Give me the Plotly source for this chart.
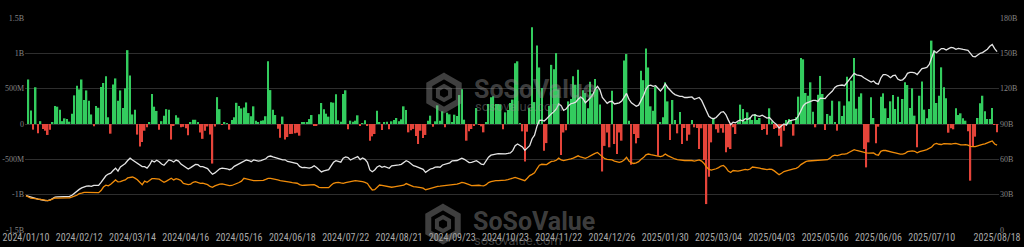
import plotly.graph_objects as go

# ---------------- data ----------------
tick_labels = ["2024/01/10", "2024/02/12", "2024/03/14", "2024/04/16", "2024/05/16",
               "2024/06/18", "2024/07/22", "2024/08/21", "2024/09/23", "2024/10/23",
               "2024/11/22", "2024/12/26", "2025/01/30", "2025/03/04", "2025/04/03",
               "2025/05/06", "2025/06/06", "2025/07/10", "2025/08/18"]
tick_index = [0, 22, 44, 66, 88, 110, 132, 154, 176, 198, 220, 242, 264, 286, 308,
              330, 352, 374, 401]

# daily total net inflow, million USD (index 0 = 2024/01/10, no flow)
net_inflow_musd = [None,
    630, 190, -80, 520, -130, 40, -70, -95, -155, -80,
    15, 255, 245, 200, 40, 80, 70, 33, 145, 405,
    540, 490, 630, 340, 475, 330, 135, -33, 255, 230,
    525, 580, 675, 95, -137, 560, 645, 330, 475, 225,
    505, 1045, 685, 135, 200, -150, -320, -255, -95, -45,
    25, 425, 245, 185, -80, 40, 115, 210, 200, -220,
    -15, 125, 90, -45, -40, -60, -160, 15, 60, 60,
    30, -120, -210, -95, -35, -150, -560, -35, 380, 210,
    -10, 15, 10, -80, 55, 95, 300, 255, 220, 235,
    305, 155, 110, 250, 47, 28, 47, 52, 110, 887,
    480, 200, 127, -66, -195, 105, -220, -185, -140, -140,
    -130, -125, -165, 28, 25, 15, 70, 127, -15, -15,
    137, 297, 207, 146, 104, 307, 302, 420, 52, 33,
    425, 477, -75, 47, 33, 47, 123, -19, 10, 52,
    -15, -236, -175, -142, 189, 24, -85, 28, 33, -75,
    38, 57, 85, 38, 66, 250, 198, -118, -90, -70,
    -170,
    -283, -95, -198, -155, 47, 118, -38, 38, 264, 47,
    180, -47, 160, 137, 28, 132, 113, 410, 490, 61,
    -236, -104, -71, -28, 226, -14, -33, -118, 24, 283,
    378, 392, 283, 283, 278, -75, 165, 198, 297, 345,
    859, 887, 14, -104, -529, -109, 226, 1369, 310, 1110,
    800, 510, -380, -270, 255, 837, 773, 1003, 490, -438,
    -120, -90, 320, 353, 676, 556, 766, 376, 479, 439,
    223, 598, 428, 637, 493, 275, -672, -310, -120, -330,
    470,
    -283, -425, -120, -236, 900, 990, 47, -576, -142, -274,
    -198, 755, 620, 1070, 800, 250, 189, 528, -450, 24,
    94, 590, 320, -226, 340, 57, -132, 170, -283, -57,
    -236, -151, 57, -47, -57, -354, -61, -510, -1133, -746,
    -260, 80, -75, -123, -61, -123, -400, -330, -354, -47,
    -142, 24, 274, 212, 38, 165, 94, 57, 142, 57,
    85, -85, -71, -151, 222, 38, -71, -57, -165, -321,
    -94, 57, 71, 57, -165, 94, 387, 935, 915, 439,
    400, 590, 175, -47, 415, 680, 425, -85, 142, 118,
    330, 24, -94, 321, 113, 260, 670, 321, 614, 935,
    217, 387, 434, -354, -614, -260, 378, 85, -274, -38,
    387, 434, 222, 85, 321, 410, 212, 387, 24, 354,
    590, 552, 226, 505, 118, -330, 400, 600, 203, 80,
    212, 1180, 1040, 297, 400, 802, 519, 363, -123, -61,
    -75, 222, 127, 151, 80, 47, -104, -802, -316, -179,
    85, 293, 400, 179, 71, 71, 226, -14, -118]

# total net assets, billion USD
total_net_assets_b = [
    29.2, 28.5, 27.8, 27.3, 26.8, 26.3, 25.9, 25.2, 24.9, 25.0,
    25.5, 26.8, 28.0, 28.2, 28.3, 28.1, 28.3, 28.2, 28.5, 29.5,
    31.3, 33.0, 34.5, 35.8, 36.8, 37.2, 37.4, 37.0, 37.9, 38.0,
    37.9, 40.5, 43.5, 46.0, 47.5, 48.2, 50.5, 52.5, 50.0, 53.5,
    55.0, 56.5, 59.0, 61.0, 59.5, 58.0, 56.8, 55.0, 53.8, 53.8,
    52.6, 55.0, 58.9, 57.7, 59.2, 58.0, 56.0, 55.0, 57.5, 59.5,
    59.0, 57.7, 59.4, 58.5, 56.0, 54.5, 53.0, 51.8, 53.0, 54.5,
    55.7, 55.5, 53.8, 53.8, 53.3, 52.2, 49.5, 47.3, 48.5, 50.5,
    52.0, 52.6,
    52.6, 52.0, 51.2, 52.0, 54.0, 55.0, 55.8, 56.9, 58.5, 59.4,
    59.0, 58.0, 59.5, 59.0, 58.5, 58.9, 59.5, 60.5, 62.3, 62.8,
    62.0, 61.3, 61.1, 60.0, 59.5, 59.6, 58.2, 57.8, 57.4, 57.2,
    56.3, 54.0, 53.0, 53.2, 52.8, 52.6, 53.2, 54.5, 53.0, 51.0,
    49.3, 50.2, 50.8, 51.2, 54.5, 57.5, 58.9, 58.0, 57.6, 61.0,
    62.0, 61.5, 59.4, 60.5, 61.5, 62.3, 59.8, 61.1, 60.0, 57.5,
    51.0, 49.5, 51.0, 53.5, 54.6, 53.2, 54.0, 53.5, 52.4, 54.5,
    54.6, 55.0, 55.3, 55.8, 57.5, 58.9, 58.0, 56.0, 54.6, 54.0,
    53.2,
    52.4, 51.5, 49.0, 50.5, 51.8, 52.4, 53.4, 53.6, 53.3, 55.2,
    55.8, 56.2, 57.0, 58.7, 58.7, 59.0, 60.0, 61.0, 60.0, 58.5,
    57.2, 57.4, 58.0, 58.9, 57.5, 56.0, 55.6, 58.9, 61.8, 63.5,
    64.2, 64.5, 64.9, 64.8, 64.5, 64.6, 65.0, 65.5, 67.4, 71.5,
    73.0, 72.0, 70.5, 67.6, 69.5, 71.6, 77.5, 80.5, 88.0, 93.0,
    93.2, 92.5, 94.5, 97.0, 98.8, 100.5, 102.8, 107.0, 105.6, 101.5,
    102.7, 105.5, 107.2, 107.8, 108.6, 111.0, 113.0, 111.5, 108.0, 110.0,
    112.8, 114.6, 119.5, 122.0, 119.0, 112.5, 110.0, 107.5, 109.0, 109.3,
    107.0, 107.5, 108.0, 109.5, 112.5, 116.0, 111.0, 108.0, 106.5, 105.0,
    106.0, 109.5, 114.0, 119.5, 122.5, 123.0, 122.0, 122.5, 120.5, 118.0,
    120.5, 124.0, 121.0, 118.5, 116.5, 115.0, 114.0, 113.5, 113.5, 112.5,
    112.5, 113.0, 113.0, 111.0, 111.5, 112.5, 110.0, 105.5, 100.0, 96.5,
    95.0, 94.5, 95.5, 97.5, 100.0, 100.5, 98.0, 93.5, 89.5, 91.5,
    91.0, 92.5, 93.5, 92.5, 94.5, 94.0, 95.0, 97.5, 97.8, 97.0,
    96.5, 97.5, 96.0, 95.0, 95.5, 93.0, 91.0, 89.5, 86.5, 88.5,
    90.0, 89.0, 92.5, 93.0, 93.5, 94.0, 97.0, 102.0, 105.5, 107.5,
    108.5, 109.0, 110.0, 110.0, 109.2, 112.0, 112.0, 111.5, 114.1, 116.0,
    118.0, 121.0, 122.3, 122.8, 123.1, 122.5, 125.0, 127.0, 129.5, 133.0,
    131.8, 131.3, 130.8, 129.3, 128.0, 126.5, 125.6, 126.5, 124.5, 123.8,
    129.1, 132.0, 132.0, 131.0, 129.3, 131.0, 131.5, 128.2, 127.0, 127.5,
    129.5, 133.0, 133.8, 133.9, 133.5, 132.0, 135.0, 137.0, 137.5, 138.0,
    140.5, 145.5, 152.0, 150.5, 152.0, 154.0, 154.0, 152.8, 154.0, 155.1,
    154.6, 153.4, 154.2, 154.0, 153.3, 152.9, 152.5, 150.0, 147.4, 147.0,
    148.5, 150.0, 150.6, 152.0, 153.5, 156.0, 157.5, 154.0, 151.5]

# BTC price, drawn on the right scale (same start as net assets)
btc_price_scaled = [
    29.2, 28.0, 27.0, 26.8, 26.5, 26.0, 25.5, 25.0, 24.9, 25.0,
    25.3, 26.5, 27.2, 27.0, 27.2, 27.2, 27.1, 27.3, 27.3, 27.8,
    28.8, 29.5, 30.8, 31.3, 32.0, 32.0, 32.0, 32.1, 31.8, 31.8,
    31.7, 33.5, 36.5, 38.0, 37.5, 38.8, 40.5, 42.5, 40.8, 41.0,
    41.9, 42.5, 44.2, 44.8, 45.0, 44.0, 42.7, 40.5, 38.5, 41.5,
    40.5, 42.0, 43.6, 43.6, 43.6, 43.2, 41.8, 40.5, 41.5, 43.0,
    43.9, 42.5, 43.6, 43.0, 42.0, 39.5, 39.1, 38.5, 39.0, 40.5,
    41.0, 40.3, 39.6, 39.8, 39.0, 38.5, 37.0, 36.2, 37.5, 38.5,
    39.0, 39.1,
    38.5, 38.0, 37.7, 37.8, 38.5, 39.5, 40.3, 41.5, 43.9, 43.5,
    42.8, 42.3, 42.0, 41.9, 41.9, 41.9, 42.2, 43.0, 43.9, 43.8,
    43.6, 43.2, 42.6, 42.0, 41.5, 41.3, 41.0, 40.6, 40.2, 40.0,
    39.7, 38.5, 37.9, 38.0, 38.2, 38.2, 38.3, 38.5, 37.5, 36.2,
    36.0, 35.8, 35.7, 36.0, 38.0, 39.6, 40.3, 40.5, 40.0, 39.6,
    40.2, 40.8, 41.2, 41.5, 41.9, 41.8, 41.2, 41.0, 40.5, 39.5,
    36.5, 34.0, 34.3, 36.5, 38.2, 37.8, 37.4, 36.8, 36.2, 36.3,
    36.7, 36.9, 37.2, 37.5, 38.0, 39.4, 38.5, 37.5, 36.8, 36.6,
    36.5,
    36.0, 35.5, 34.2, 34.8, 35.5, 36.0, 36.6, 37.1, 37.2, 37.4,
    37.6, 37.8, 38.0, 38.2, 38.5, 39.0, 39.6, 40.4, 40.0, 39.0,
    38.5, 37.7, 37.9, 38.2, 38.0, 37.6, 37.4, 38.5, 40.3, 41.0,
    41.7, 41.9, 41.9, 41.9, 41.9, 42.3, 42.8, 43.2, 44.0, 44.7,
    44.0, 43.2, 42.5, 41.9, 44.0, 46.2, 47.2, 48.5, 52.0, 55.0,
    55.8, 55.8, 55.5, 57.0, 58.2, 58.5, 59.2, 61.0, 59.5, 58.9,
    59.2, 59.4, 60.3, 61.1, 62.0, 63.0, 62.0, 61.2, 60.8, 61.8,
    63.2, 64.0, 65.0, 65.8, 64.0, 61.8, 60.5, 60.0, 59.8, 59.5,
    58.5, 58.0, 57.5, 58.0, 59.5, 61.8, 58.5, 57.0, 56.5, 57.0,
    58.0, 60.0, 61.5, 63.8, 64.5, 64.0, 63.5, 63.0, 62.5, 62.3,
    63.0, 64.5, 63.2, 62.0, 61.0, 60.3, 59.8, 59.4, 59.2, 59.0,
    59.0, 59.2, 59.0, 58.5, 58.8, 59.5, 58.5, 56.5, 53.5, 51.5,
    50.8, 51.2, 52.0, 53.0, 54.3, 54.8, 53.0, 50.0, 48.8, 50.5,
    50.3, 50.0, 50.5, 51.2, 51.5, 51.0, 51.8, 53.5, 53.3, 53.0,
    52.5, 52.0, 51.7, 51.2, 51.7, 51.5, 50.2, 48.5, 47.0, 48.2,
    49.6, 50.2, 51.0, 51.6, 52.0, 52.4, 53.5, 55.5, 56.8, 58.0,
    58.6, 58.8, 58.9, 58.9, 58.9, 59.2, 59.4, 59.5, 59.7, 61.0,
    62.8, 63.6, 63.2, 63.8, 64.5, 64.5, 64.8, 66.0, 67.0, 68.2,
    67.5, 66.9, 66.5, 66.0, 65.5, 65.2, 65.6, 65.5, 64.0, 63.5,
    66.8, 67.6, 67.5, 66.8, 66.2, 66.0, 65.5, 64.8, 64.5, 64.5,
    65.0, 66.5, 67.0, 67.2, 66.8, 65.5, 66.5, 67.4, 67.7, 68.2,
    69.2, 70.5, 72.8, 73.5, 72.8, 72.6, 73.4, 73.2, 72.6, 73.0,
    73.3, 73.6, 73.0, 72.3, 72.3, 72.5, 72.0, 71.0, 70.8, 70.8,
    71.5, 72.3, 72.6, 73.2, 73.7, 74.8, 75.6, 73.0, 72.0]

left_ticks = [-1500, -1000, -500, 0, 500, 1000, 1500]
left_tick_text = ["-1.5B", "-1B", "-500M", "0", "500M", "1B", "1.5B"]
right_ticks = [0, 30, 60, 90, 120, 150, 180]
right_tick_text = ["0", "30B", "60B", "90B", "120B", "150B", "180B"]

# ---------------- figure ----------------
day_index = list(range(len(total_net_assets_b)))
GREEN, RED = "#33cc5e", "#e5443a"
bar_colors = [GREEN if (v is not None and v >= 0) else RED for v in net_inflow_musd]

fig = go.Figure()
fig.add_trace(go.Bar(x=day_index, y=net_inflow_musd, marker=dict(color=bar_colors, line=dict(width=0)),
                     name="Daily Total Net Inflow", yaxis="y"))
fig.add_trace(go.Scatter(x=day_index, y=total_net_assets_b, mode="lines", name="Total Net Assets",
                         line=dict(color="#e4e4e4", width=1.3), yaxis="y2"))
fig.add_trace(go.Scatter(x=day_index, y=btc_price_scaled, mode="lines", name="BTC Price",
                         line=dict(color="#f08c0a", width=1.3), yaxis="y2"))

L, R, T, B = 25, 25, 18, 17
W, H = 1024, 247
pw, ph = W - L - R, H - T - B


def paper(x, y):
    return (x - L) / pw, (H - B - y) / ph


wm = "rgba(150,150,150,0.42)"
annotations = []
shapes = []
for (ix, iy, tx, ty, sy) in [(444, 93, 472, 89, 106), (443, 224, 471, 221, 240)]:
    r = 17
    pts = [(ix + r * c, iy + r * s) for c, s in [(0, -1), (0.866, -0.5), (0.866, 0.5), (0, 1), (-0.866, 0.5), (-0.866, -0.5)]]
    path = "M " + " L ".join("%f,%f" % paper(px, py) for px, py in pts) + " Z"
    shapes.append(dict(type="path", xref="paper", yref="paper", path=path,
                       line=dict(color=wm, width=6), fillcolor="rgba(0,0,0,0)", layer="above"))
    r2 = 7
    pts2 = [(ix + r2 * c, iy + r2 * s) for c, s in [(0, -1), (0.866, -0.5), (0.866, 0.5), (0, 1), (-0.866, 0.5), (-0.866, -0.5)]]
    path2 = "M " + " L ".join("%f,%f" % paper(px, py) for px, py in pts2) + " Z"
    shapes.append(dict(type="path", xref="paper", yref="paper", path=path2,
                       line=dict(color=wm, width=4), fillcolor="rgba(0,0,0,0)", layer="above"))
    x0, y0 = paper(tx, ty)
    annotations.append(dict(x=x0, y=y0, xref="paper", yref="paper", text="<b>SoSoValue</b>",
                            showarrow=False, xanchor="left", yanchor="middle",
                            font=dict(family="Roboto", size=25, color=wm)))
    x1, y1 = paper(tx + 1, sy)
    annotations.append(dict(x=x1, y=y1, xref="paper", yref="paper", text="sosovalue.com",
                            showarrow=False, xanchor="left", yanchor="middle",
                            font=dict(family="Roboto", size=13, color=wm)))

fig.update_layout(
    width=W, height=H, margin=dict(l=L, r=R, t=T, b=B, pad=0),
    paper_bgcolor="#000000", plot_bgcolor="#000000",
    showlegend=False, bargap=0.36,
    xaxis=dict(range=[-0.4, 401.8], tickmode="array", tickvals=tick_index, ticktext=tick_labels,
               showgrid=False, zeroline=False, showline=False, ticks="", tickangle=0, automargin=False,
               tickfont=dict(family="Liberation Sans Narrow, Roboto Condensed, DejaVu Sans Condensed, Roboto",
                             size=10, color="#a9a9a9")),
    yaxis=dict(range=[-1500, 1500], tickmode="array", tickvals=left_ticks, ticktext=left_tick_text,
               showgrid=True, gridcolor="#2e2e2e", gridwidth=1, zeroline=False, showline=False, ticks="",
               automargin=False, tickfont=dict(family="Liberation Serif", size=8, color="#858585")),
    yaxis2=dict(range=[0, 180], overlaying="y", side="right", tickmode="array", automargin=False,
                tickvals=right_ticks, ticktext=right_tick_text, showgrid=False, zeroline=False,
                showline=False, ticks="", tickfont=dict(family="Liberation Serif", size=8, color="#858585")),
    annotations=annotations, shapes=shapes,
)

fig.write_html("out.html")
